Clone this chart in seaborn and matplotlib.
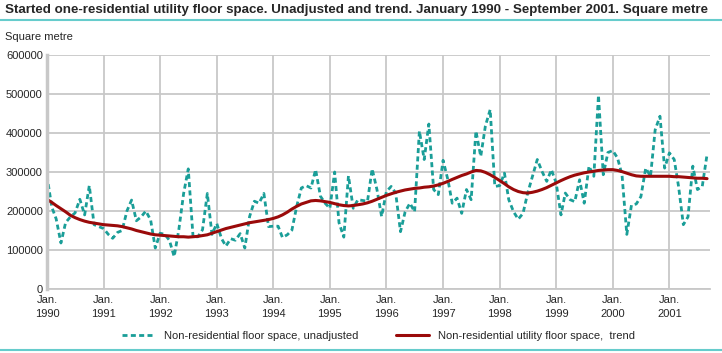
import numpy as np
import pandas as pd
import matplotlib
matplotlib.use("Agg")
import matplotlib.pyplot as plt
import matplotlib.dates as mdates
import seaborn as sns

# monthly values, Jan 1990 - Sep 2001 (thousand square metre)
unadjusted = [
    290, 210, 180, 118, 170, 185, 195, 230, 190, 265, 165, 160,   # 1990
    155, 140, 130, 145, 150, 200, 228, 175, 185, 200, 177, 105,   # 1991
    143, 140, 125, 83, 152, 245, 308, 133, 134, 152, 245, 140,    # 1992
    168, 129, 110, 129, 125, 142, 105, 186, 225, 220, 245, 160,   # 1993
    161, 161, 132, 139, 151, 212, 259, 265, 259, 306, 238, 220,   # 1994
    207, 300, 170, 133, 290, 207, 229, 227, 225, 308, 255, 186,   # 1995
    250, 263, 246, 147, 198, 220, 198, 405, 332, 423, 255, 242,   # 1996
    330, 280, 220, 233, 194, 255, 229, 405, 340, 418, 460, 263,   # 1997
    265, 297, 229, 198, 179, 194, 246, 289, 332, 302, 276, 306,   # 1998
    272, 190, 246, 229, 224, 280, 220, 315, 289, 497, 293, 350,   # 1999
    355, 336, 293, 140, 215, 218, 237, 310, 289, 408, 443, 310,   # 2000
    349, 332, 263, 165, 185, 315, 255, 263, 345,                  # 2001
]
trend = [
    230, 222, 214, 206, 198, 189, 183, 178, 174, 171, 169, 167,
    165, 164, 163, 162, 160, 157, 154, 150, 147, 144, 141, 139,
    138, 137, 136, 135, 134, 134, 133, 134, 135, 137, 139, 143,
    147, 151, 155, 158, 161, 164, 167, 170, 172, 174, 176, 178,
    181, 185, 190, 197, 205, 212, 218, 222, 226, 227, 226, 224,
    222, 219, 216, 214, 213, 214, 216, 218, 221, 225, 230, 235,
    240, 244, 248, 251, 254, 256, 258, 259, 261, 262, 264, 267,
    271, 276, 281, 286, 291, 295, 300, 304, 303, 299, 293, 286,
    278, 270, 262, 255, 250, 247, 246, 248, 251, 255, 260, 266,
    272, 278, 283, 288, 292, 295, 298, 300, 302, 304, 305, 306,
    306, 304, 301, 297, 293, 290, 289, 289, 289, 289, 289, 289,
    289, 288, 288, 287, 286, 285, 284, 284, 283,
]
months = pd.date_range("1990-01-01", periods=len(unadjusted), freq="MS")
year_ticks = pd.date_range("1990-01-01", "2001-01-01", freq="YS")
y_ticks = [0, 100000, 200000, 300000, 400000, 500000, 600000]

df = pd.DataFrame({
    "month": months,
    "unadjusted": np.array(unadjusted) * 1000,
    "trend": np.array(trend) * 1000,
})

sns.set_style("white")
plt.rcParams["font.family"] = ["Liberation Sans", "DejaVu Sans"]

teal = "#1a9e98"
red = "#9a0a0a"
grid = "#c8c8c8"

fig = plt.figure(figsize=(7.22, 3.53), dpi=100)
ax = fig.add_axes([47 / 722, 1 - 289 / 353, 663 / 722, 234 / 353])

sns.lineplot(data=df, x="month", y="unadjusted", ax=ax, color=teal, lw=2,
             linestyle=(0, (1.8, 1.2)), label="Non-residential floor space, unadjusted")
sns.lineplot(data=df, x="month", y="trend", ax=ax, color=red, lw=2.2,
             label="Non-residential utility floor space,  trend")

ax.set_ylim(0, 600000)
ax.set_xlim(pd.Timestamp("1990-01-01"), pd.Timestamp("2001-09-20"))
ax.set_yticks(y_ticks)
ax.set_yticklabels([str(v) for v in y_ticks], fontsize=8)
ax.set_xticks(year_ticks)
ax.set_xticklabels([f"Jan.\n{d.year}" for d in year_ticks], fontsize=8, linespacing=1.6)
ax.xaxis.set_minor_locator(mdates.MonthLocator())
ax.tick_params(axis="x", which="minor", direction="in", length=4, color=grid, width=0.8)
ax.tick_params(axis="x", which="major", length=0, pad=4)
ax.tick_params(axis="y", length=0, pad=3)
ax.set_xlabel("")
ax.set_ylabel("")
ax.grid(True, color=grid, lw=1.3)
ax.set_axisbelow(True)
for side in ["top", "right"]:
    ax.spines[side].set_visible(False)
ax.spines["left"].set_color(grid)
ax.spines["left"].set_linewidth(2.5)
ax.spines["bottom"].set_color(grid)
ax.spines["bottom"].set_linewidth(1.3)

ax.legend(loc="center", bbox_to_anchor=(0.5, -(336 - 289) / 234), ncol=2, frameon=False,
          fontsize=8, handlelength=3.0, columnspacing=3.4)

fig.text(5 / 722, 1 - 10 / 353, "Started one-residential utility floor space. Unadjusted and trend. "
         "January 1990 - September 2001. Square metre",
         fontsize=9.6, fontweight="bold", va="center", ha="left")
fig.add_artist(plt.Line2D([0, 1], [1 - 20 / 353] * 2, color="#66cccc", lw=1.5))
fig.add_artist(plt.Line2D([0, 1], [1 - 350 / 353] * 2, color="#66cccc", lw=1.5))
fig.text(5 / 722, 1 - 37 / 353, "Square metre", fontsize=8, va="center", ha="left")

fig.savefig("out.png", dpi=100)
